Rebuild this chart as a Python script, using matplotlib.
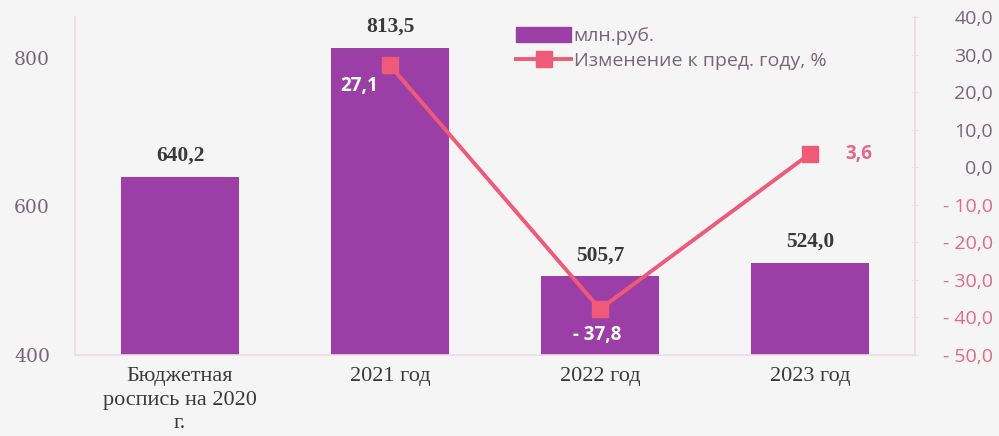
import matplotlib
matplotlib.use("Agg")
import matplotlib.pyplot as plt
import numpy as np
from matplotlib.patches import Patch
from matplotlib.lines import Line2D

categories = ["Бюджетная\nроспись на 2020\nг.", "2021 год", "2022 год", "2023 год"]
amounts = [640.2, 813.5, 505.7, 524.0]
amount_labels = ["640,2", "813,5", "505,7", "524,0"]
change_pct = [np.nan, 27.1, -37.8, 3.6]
change_labels = ["", "27,1", "- 37,8", "3,6"]
left_ticks = [400, 600, 800]
right_ticks = [40, 30, 20, 10, 0, -10, -20, -30, -40, -50]
right_tick_labels = ["40,0", "30,0", "20,0", "10,0", "0,0", "- 10,0", "- 20,0", "- 30,0", "- 40,0", "- 50,0"]

BG = "#f6f5f5"
BAR = "#9b3fa6"
LINE = "#ee5a78"
TXT = "#7b6474"
PINK_TXT = "#e06a88"

fig = plt.figure(figsize=(9.99, 4.36), dpi=100, facecolor=BG)
ax = fig.add_axes([0.075, 0.186, 0.841, 0.775], facecolor=BG)
x = np.arange(len(categories))
ax.bar(x, amounts, width=0.56, color=BAR, zorder=2)
ax.set_xlim(-0.5, 3.5)
ax.set_ylim(400, 855)
ax.set_yticks(left_ticks)
ax.set_yticklabels([str(t) for t in left_ticks], fontfamily="DejaVu Serif", fontsize=13.5, color=TXT)
ax.tick_params(axis="y", length=0, pad=18)
ax.set_xticks(x)
ax.set_xticklabels(categories, fontfamily="Liberation Serif", fontsize=16, color="#3a3a3a", linespacing=1.3)
ax.tick_params(axis="x", length=0, pad=9)
for s in ["top"]:
    ax.spines[s].set_visible(False)
for s in ["left", "right", "bottom"]:
    ax.spines[s].set_color("#ecdde6")
    ax.spines[s].set_linewidth(1.2)

for xi, v, lab in zip(x, amounts, amount_labels):
    ax.annotate(lab, (xi, v), xytext=(0, 8), textcoords="offset points", ha="center", va="bottom",
                fontfamily="Liberation Serif", fontweight="bold", fontsize=15.5, color="#3a3a3a")

ax2 = ax.twinx()
ax2.set_ylim(-50, 40)
ax2.plot(x, change_pct, color=LINE, lw=2.8, marker="s", markersize=12, zorder=5)
ax2.set_yticks(right_ticks)
ax2.set_yticklabels(right_tick_labels, fontfamily="Open Sans", fontsize=14)
for t, val in zip(ax2.get_yticklabels(), right_ticks):
    t.set_color(PINK_TXT if val < 0 else TXT)
    t.set_horizontalalignment("right")
ax2.tick_params(axis="y", length=4, direction="inout", color="#e8dfe4", pad=54)
for s in ["top", "left", "bottom"]:
    ax2.spines[s].set_visible(False)
ax2.spines["right"].set_color("#ecdde6")
ax2.spines["right"].set_linewidth(1.2)

offsets = {1: (-22, -15, "white"),
           2: (-2, -19, "white"),
           3: (35, 0, PINK_TXT)}
for i, (dx, dy, col) in offsets.items():
    ax2.annotate(change_labels[i], (x[i], change_pct[i]), xytext=(dx, dy), textcoords="offset points",
                 ha="center", va="center", fontfamily="Open Sans", fontweight="bold", fontsize=13.5,
                 color=col, zorder=6)

handles = [Patch(facecolor=BAR, edgecolor=BAR),
           Line2D([0], [0], color=LINE, lw=2.8, marker="s", markersize=11)]
leg = fig.legend(handles, ["млн.руб.", "Изменение к пред. году, %"], loc="upper left",
                 bbox_to_anchor=(0.517, 0.938), frameon=False, borderpad=0, borderaxespad=0,
                 handlelength=2.8, handleheight=0.8,
                 handletextpad=0.15, labelspacing=0.35, prop={"family": "Open Sans", "size": 14})
for t in leg.get_texts():
    t.set_color(TXT)

fig.savefig("out.png", dpi=100, facecolor=BG)
